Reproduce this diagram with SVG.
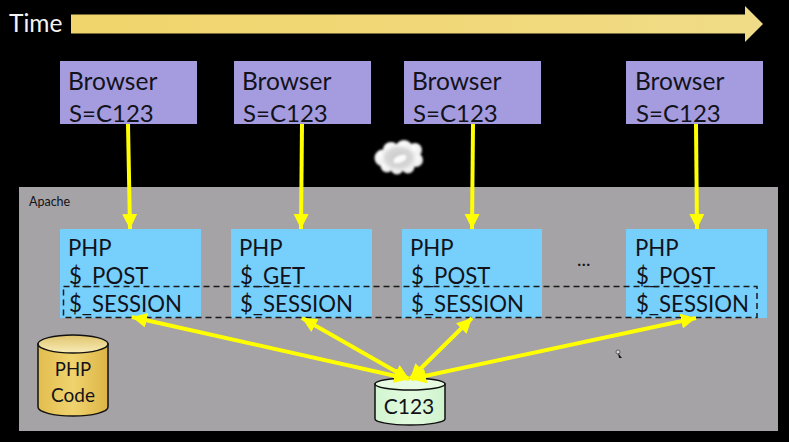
<svg xmlns="http://www.w3.org/2000/svg" width="789" height="442" viewBox="0 0 789 442">
<style>
text{font-family:"Lato","Open Sans","Liberation Sans",sans-serif;fill:#12121a}
.b{font-size:24.500px}
.s{font-size:24px}
.p{font-size:22.200px}
.browser{fill:#a59cdf}
.php{fill:#77cffc}
.conn{stroke:#ffff00;stroke-width:4;fill:none}
.v{marker-end:url(#ah)}
.d{marker-start:url(#ah);marker-end:url(#ah)}
.cyl{stroke:#111;stroke-width:1.5}
.lump{fill:url(#lumpg)}
</style>
<defs>
<marker id="ah" markerUnits="userSpaceOnUse" markerWidth="18" markerHeight="16" refX="15" refY="7.500" orient="auto-start-reverse"><path d="M0 0L15 7.500L0 15z" fill="#ffff00"/></marker>
<linearGradient id="yb" x1="0" x2="1" y1="0" y2="0"><stop offset="0" stop-color="#e2bd4f"/><stop offset=".5" stop-color="#f0d36e"/><stop offset="1" stop-color="#dcb445"/></linearGradient>
<linearGradient id="yt" x1="0" x2="0" y1="0" y2="1"><stop offset="0" stop-color="#e0c46c"/><stop offset="1" stop-color="#f8ecb8"/></linearGradient>
<linearGradient id="gb" x1="0" x2="1" y1="0" y2="0"><stop offset="0" stop-color="#d2f5d0"/><stop offset=".5" stop-color="#e2fbdf"/><stop offset="1" stop-color="#cff3cd"/></linearGradient>
<linearGradient id="tb" x1="0" x2="1" y1="0" y2="0"><stop offset="0" stop-color="#f0d56c"/><stop offset=".5" stop-color="#f1d777"/><stop offset="1" stop-color="#f0dc88"/></linearGradient>
<radialGradient id="lumpg" cx=".4" cy=".35" r=".7"><stop offset="0" stop-color="#fff"/><stop offset=".7" stop-color="#f0f0f0"/><stop offset="1" stop-color="#dcdcdc"/></radialGradient>
<radialGradient id="mid" cx=".5" cy=".5" r=".5"><stop offset="0" stop-color="#c8c8c8"/><stop offset=".7" stop-color="#d8d8d8"/><stop offset="1" stop-color="#e8e8e8" stop-opacity="0"/></radialGradient>
<filter id="soft" x="-10%" y="-10%" width="120%" height="120%"><feGaussianBlur stdDeviation="1"/></filter>
</defs>
<rect width="789" height="442" fill="#000"/>
<g id="time">
<text x="9" y="32" style="fill:#f4f4f4;font-size:24.500px">Time</text>
<path d="M71 14.500H745V6L763 24L745 42V33.500H71z" fill="url(#tb)"/>
</g>
<g id="apache">
<rect x="19" y="187" width="759" height="244" fill="#a5a3a5"/>
<text x="29" y="206" style="font-size:12.500px">Apache</text>
<text x="577" y="266" style="font-size:19px">...</text>
</g>
<g id="cloud" filter="url(#soft)">
<circle class="lump" cx="383" cy="158" r="8.500"/><circle class="lump" cx="391" cy="150" r="8"/><circle class="lump" cx="404" cy="149" r="9"/><circle class="lump" cx="415" cy="150" r="7"/><circle class="lump" cx="416" cy="160" r="7"/><circle class="lump" cx="408" cy="167" r="6.500"/><circle class="lump" cx="397" cy="168" r="6.500"/><circle class="lump" cx="387" cy="166" r="6.500"/>
<ellipse cx="399" cy="158" rx="19" ry="14" fill="url(#mid)"/>
<ellipse cx="400" cy="159" rx="7" ry="3.500" fill="#fafafa" transform="rotate(-25 400 159)"/>
</g>
<g id="browser1"><rect class="browser" x="60" y="61" width="137" height="63"/><text class="b" x="68" y="90">Browser</text><text class="s" x="69" y="122">S=C123</text></g>
<g id="browser2"><rect class="browser" x="234" y="61" width="137" height="63"/><text class="b" x="242" y="90">Browser</text><text class="s" x="243" y="122">S=C123</text></g>
<g id="browser3"><rect class="browser" x="404" y="61" width="137" height="63"/><text class="b" x="412" y="90">Browser</text><text class="s" x="413" y="122">S=C123</text></g>
<g id="browser4"><rect class="browser" x="626" y="61" width="137" height="63"/><text class="b" x="635" y="90">Browser</text><text class="s" x="636" y="122">S=C123</text></g>
<g id="php1"><rect class="php" x="60" y="229" width="141" height="89"/><text class="p" x="68" y="256">PHP</text><text class="p" x="69" y="284">$_POST</text><text class="p" x="69" y="312">$_SESSION</text></g>
<g id="php2"><rect class="php" x="231" y="229" width="141" height="89"/><text class="p" x="239" y="256">PHP</text><text class="p" x="240" y="284">$_GET</text><text class="p" x="240" y="312">$_SESSION</text></g>
<g id="php3"><rect class="php" x="402" y="229" width="140" height="89"/><text class="p" x="410" y="256">PHP</text><text class="p" x="411" y="284">$_POST</text><text class="p" x="411" y="312">$_SESSION</text></g>
<g id="php4"><rect class="php" x="626" y="229" width="141" height="89"/><text class="p" x="635" y="256">PHP</text><text class="p" x="636" y="284">$_POST</text><text class="p" x="636" y="312">$_SESSION</text></g>
<rect id="session-group" x="63.500" y="286.500" width="693.500" height="31" fill="none" stroke="#1a1a1a" stroke-width="1.500" stroke-dasharray="6 4"/>
<g id="php-code">
<path class="cyl" d="M38 344V407C38 412 53 416 73 416S108 412 108 407V344z" fill="url(#yb)"/>
<ellipse class="cyl" cx="73" cy="344" rx="35" ry="9" fill="url(#yt)"/>
<text x="73" y="376" text-anchor="middle" style="font-size:18.500px">PHP</text>
<text x="73" y="402" text-anchor="middle" style="font-size:19px">Code</text>
</g>
<g id="c123">
<path class="cyl" d="M375 384V419C375 422 390 425 410 425S445 422 445 419V384z" fill="url(#gb)"/>
<ellipse class="cyl" cx="410" cy="384" rx="35" ry="6" fill="#e6fbe2"/>
<text x="409" y="414" text-anchor="middle" style="font-size:21px">C123</text>
</g>
<g id="connectors">
<path class="conn v" d="M128 124L130 229"/>
<path class="conn v" d="M302 124L301 229"/>
<path class="conn v" d="M473 124L472 229"/>
<path class="conn v" d="M696 124L697 229"/>
<path class="conn d" d="M132 317L409 379"/>
<path class="conn d" d="M302 318L409 379"/>
<path class="conn d" d="M472 318L410 379"/>
<path class="conn d" d="M696 318L411 379"/>
</g>
<g id="cursor"><circle cx="618" cy="352" r="2" fill="#ddd" stroke="#333" stroke-width=".7"/><path d="M618 353L622 358L619 358z" fill="#111"/></g>
</svg>
